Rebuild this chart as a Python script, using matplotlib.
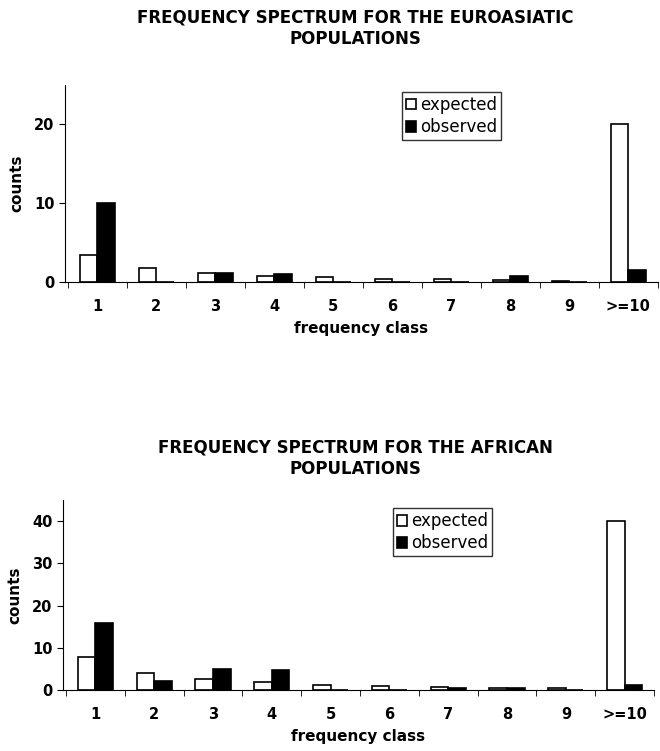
import numpy as np
import matplotlib
matplotlib.use('Agg')
import matplotlib.pyplot as plt

classes = ['1', '2', '3', '4', '5', '6', '7', '8', '9', '>=10']

euro_expected = [3.4, 1.8, 1.1, 0.8, 0.6, 0.4, 0.35, 0.3, 0.15, 20.1]
euro_observed = [10, 0, 1.1, 1.0, 0, 0, 0, 0.8, 0, 1.5]

afr_expected = [7.9, 4.2, 2.6, 1.9, 1.4, 1.0, 0.9, 0.6, 0.6, 40]
afr_observed = [16, 2.2, 5.0, 4.9, 0, 0, 0.7, 0.6, 0, 1.3]

plt.rcParams['font.family'] = 'DejaVu Sans'


def draw_panel(ax, expected, observed, ymax, yticks, legend_anchor):
    x = np.arange(len(classes))
    w = 0.3
    ax.bar(x - w / 2, expected, w, color='white', edgecolor='black', linewidth=1.2, label='expected')
    ax.bar(x + w / 2, observed, w, color='black', edgecolor='black', linewidth=1.2, label='observed')
    ax.set_xlim(-0.55, 9.5)
    ax.set_ylim(0, ymax)
    ax.set_yticks(yticks)
    ax.set_xticks(x)
    ax.set_xticklabels(classes)
    ax.set_xticks(np.arange(-0.5, 9.6, 1), minor=True)
    ax.tick_params(axis='x', which='major', length=0, pad=12, labelsize=10.5)
    ax.tick_params(axis='x', which='minor', length=4, direction='out')
    ax.tick_params(axis='y', length=4, direction='out', labelsize=10.5)
    for lab in ax.get_xticklabels() + ax.get_yticklabels():
        lab.set_fontweight('bold')
    ax.spines['top'].set_visible(False)
    ax.spines['right'].set_visible(False)
    ax.set_xlabel('frequency class', fontsize=11, fontweight='bold', labelpad=5)
    ax.set_ylabel('counts', fontsize=11, fontweight='bold')
    ax.yaxis.set_label_coords(-0.068, 0.5)
    leg = ax.legend(loc='upper left', bbox_to_anchor=legend_anchor, borderaxespad=0,
                    fancybox=False, edgecolor='black', fontsize=12,
                    handlelength=0.6, handleheight=0.6, handletextpad=0.25,
                    borderpad=0.25, labelspacing=0.25)
    leg.get_frame().set_linewidth(1.0)


fig = plt.figure(figsize=(6.6, 7.51), dpi=100)

ax1 = fig.add_axes([0.0985, 0.6245, 0.898, 0.2623])
draw_panel(ax1, euro_expected, euro_observed, 25, [0, 10, 20], (0.568, 0.965))

ax2 = fig.add_axes([0.0955, 0.0806, 0.8955, 0.2537])
draw_panel(ax2, afr_expected, afr_observed, 45, [0, 10, 20, 30, 40], (0.558, 0.958))

fig.text(0.538, 1 - 28 / 751, 'FREQUENCY SPECTRUM FOR THE EUROASIATIC\nPOPULATIONS',
         ha='center', va='center', fontsize=12, fontweight='bold', linespacing=1.25)
fig.text(0.538, 1 - 458 / 751, 'FREQUENCY SPECTRUM FOR THE AFRICAN\nPOPULATIONS',
         ha='center', va='center', fontsize=12, fontweight='bold', linespacing=1.25)

fig.savefig('out.png', dpi=100)
